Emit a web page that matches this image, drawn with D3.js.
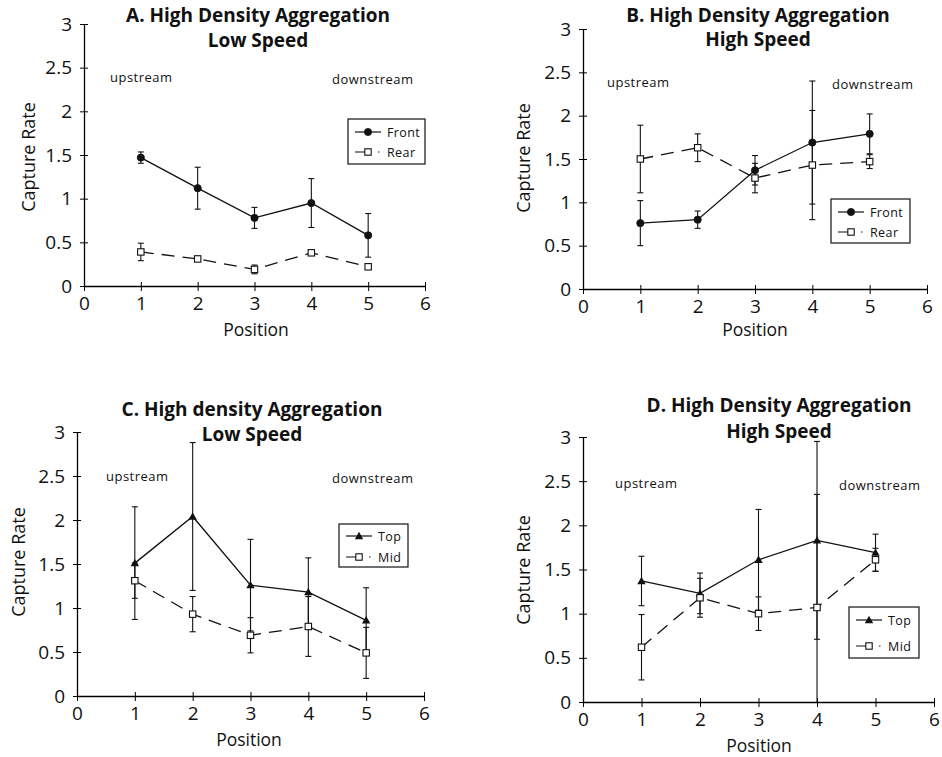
<!DOCTYPE html>
<html>
<head>
<meta charset="utf-8">
<script src="https://cdn.jsdelivr.net/npm/d3@7"></script>
<style>
  html, body { margin: 0; padding: 0; background: #fff; }
  svg { display: block; }
  text { font-family: "Open Sans", "Lato", sans-serif; fill: #111; }
</style>
</head>
<body>
<svg id="chart" width="942" height="757"></svg>
<script>
// ---------- DATA ----------
const positions = [1, 2, 3, 4, 5];
const xTickValues = [0, 1, 2, 3, 4, 5, 6];
const yTickValues = [0, 0.5, 1, 1.5, 2, 2.5, 3];
const yTickLabels = ["0", "0.5", "1", "1.5", "2", "2.5", "3"];

const panelTitles = [
  ["A. High Density Aggregation", "Low Speed"],
  ["B. High Density Aggregation", "High Speed"],
  ["C. High density Aggregation", "Low Speed"],
  ["D. High Density Aggregation", "High Speed"]
];
const seriesNamesAB = ["Front", "Rear"];
const seriesNamesCD = ["Top", "Mid"];

// Panel A
const aFront    = [1.47, 1.12, 0.78, 0.95, 0.58];
const aFrontErr = [0.065, 0.24, 0.12, 0.28, 0.25];
const aRear     = [0.39, 0.31, 0.19, 0.38, 0.22];
const aRearErr  = [0.10, 0.03, 0.05, 0.02, 0.03];
// Panel B
const bFront    = [0.76, 0.80, 1.37, 1.69, 1.79];
const bFrontErr = [0.26, 0.10, 0.17, 0.71, 0.23];
const bRear     = [1.50, 1.63, 1.28, 1.43, 1.47];
const bRearErr  = [0.39, 0.16, 0.17, 0.63, 0.08];
// Panel C
const cTop      = [1.51, 2.04, 1.26, 1.18, 0.86];
const cTopErr   = [0.64, 0.84, 0.52, 0.39, 0.37];
const cMid      = [1.31, 0.93, 0.69, 0.79, 0.49];
const cMidErr   = [0.20, 0.20, 0.20, 0.34, 0.29];
// Panel D
const dTop      = [1.37, 1.23, 1.61, 1.83, 1.69];
const dTopErr   = [0.28, 0.23, 0.57, 1.12, 0.21];
const dMid      = [0.62, 1.18, 1.00, 1.07, 1.61];
const dMidErr   = [0.37, 0.22, 0.19, 1.28, 0.13];

// ---------- LAYOUT ----------
const layouts = [
  { x0: 84,  x6: 425, y0: 286, y3: 24,  tx: 258, t1: 22, t2: 47,
    up: [110, 82], dn: [332, 84], leg: [348, 119, 77, 45], legRows: [132, 152],
    yl: [29, 157], pos: [256, 336], marker: "circle" },
  { x0: 583, x6: 927, y0: 289, y3: 29,  tx: 758, t1: 22, t2: 46,
    up: [607, 87], dn: [832, 89], leg: [831, 199, 79, 44], legRows: [212, 232],
    yl: [524, 158], pos: [755, 336], marker: "circle" },
  { x0: 77,  x6: 424, y0: 696, y3: 432, tx: 252, t1: 416, t2: 441,
    up: [106, 481], dn: [332, 483], leg: [339, 524, 69, 43], legRows: [536, 557],
    yl: [19, 562], pos: [249, 746], marker: "triangle" },
  { x0: 583, x6: 934, y0: 702, y3: 437, tx: 779, t1: 412, t2: 438,
    up: [615, 488], dn: [839, 490], leg: [849, 607, 70, 51], legRows: [620, 646],
    yl: [524, 570], pos: [759, 752], marker: "triangle" }
];

const panelSeries = [
  [{ name: seriesNamesAB[0], vals: aFront, errs: aFrontErr, dashed: false },
   { name: seriesNamesAB[1], vals: aRear,  errs: aRearErr,  dashed: true }],
  [{ name: seriesNamesAB[0], vals: bFront, errs: bFrontErr, dashed: false },
   { name: seriesNamesAB[1], vals: bRear,  errs: bRearErr,  dashed: true }],
  [{ name: seriesNamesCD[0], vals: cTop, errs: cTopErr, dashed: false },
   { name: seriesNamesCD[1], vals: cMid, errs: cMidErr, dashed: true }],
  [{ name: seriesNamesCD[0], vals: dTop, errs: dTopErr, dashed: false },
   { name: seriesNamesCD[1], vals: dMid, errs: dMidErr, dashed: true }]
];

const svg = d3.select("#chart");
const DASH = "13,8";

function drawMarker(g, type, cx, cy) {
  if (type === "circle") {
    g.append("circle").attr("cx", cx).attr("cy", cy).attr("r", 3.6)
      .attr("fill", "#111").attr("stroke", "#111").attr("stroke-width", 0.8);
  } else if (type === "triangle") {
    const s = 4.2;
    g.append("path")
      .attr("d", `M${cx},${cy - s}L${cx + s},${cy + s * 0.75}L${cx - s},${cy + s * 0.75}Z`)
      .attr("fill", "#111");
  } else {
    g.append("rect").attr("x", cx - 3.2).attr("y", cy - 3.2).attr("width", 6.4).attr("height", 6.4)
      .attr("fill", "#fff").attr("stroke", "#111").attr("stroke-width", 1.1);
  }
}

layouts.forEach((L, i) => {
  const g = svg.append("g");
  const x = d3.scaleLinear().domain([0, 6]).range([L.x0, L.x6]);
  const y = d3.scaleLinear().domain([0, 3]).range([L.y0, L.y3]);

  // axes (cross ticks)
  const yAxis = d3.axisLeft(y).tickValues(yTickValues)
    .tickFormat((d, k) => yTickLabels[k]).tickSizeInner(4).tickSizeOuter(0).tickPadding(8);
  const ya = g.append("g").attr("transform", `translate(${L.x0},0)`).call(yAxis);
  ya.selectAll(".tick line").attr("x2", -4).attr("x1", 4);
  ya.select(".domain").attr("stroke-width", 1.3);
  ya.selectAll(".tick text").attr("font-size", 19).attr("font-family", "Open Sans").attr("fill", "#111");

  const xAxis = d3.axisBottom(x).tickValues(xTickValues)
    .tickFormat(d3.format("d")).tickSizeInner(4).tickSizeOuter(0).tickPadding(7);
  const xa = g.append("g").attr("transform", `translate(0,${L.y0})`).call(xAxis);
  xa.selectAll(".tick line").attr("y1", -4).attr("y2", 5);
  xa.select(".domain").attr("stroke-width", 1.3);
  xa.selectAll(".tick text").attr("font-size", 19).attr("font-family", "Open Sans").attr("fill", "#111");

  // titles
  g.append("text").attr("x", L.tx).attr("y", L.t1).attr("text-anchor", "middle")
    .attr("font-size", 19).attr("font-weight", "bold").text(panelTitles[i][0]);
  g.append("text").attr("x", L.tx).attr("y", L.t2).attr("text-anchor", "middle")
    .attr("font-size", 19).attr("font-weight", "bold").text(panelTitles[i][1]);

  // annotations
  g.append("text").attr("x", L.up[0]).attr("y", L.up[1]).attr("font-size", 13)
    .attr("letter-spacing", 0.5).text("upstream");
  g.append("text").attr("x", L.dn[0]).attr("y", L.dn[1]).attr("font-size", 13)
    .attr("letter-spacing", 0.5).text("downstream");

  // axis labels
  g.append("text").attr("transform", `translate(${L.yl[0] + 6},${L.yl[1]}) rotate(-90)`)
    .attr("text-anchor", "middle").attr("font-size", 18).text("Capture Rate");
  g.append("text").attr("x", L.pos[0]).attr("y", L.pos[1]).attr("text-anchor", "middle")
    .attr("font-size", 17.5).text("Position");

  // series
  panelSeries[i].forEach((s, si) => {
    const pts = positions.map((p, k) => ({ p, v: s.vals[k], e: s.errs[k] }));
    // error bars
    pts.forEach(d => {
      const lo = Math.max(0, d.v - d.e), hi = d.v + d.e;
      const cx = x(d.p);
      g.append("line").attr("x1", cx).attr("x2", cx).attr("y1", y(lo)).attr("y2", y(hi))
        .attr("stroke", "#111").attr("stroke-width", 1.1);
      g.append("line").attr("x1", cx - 3).attr("x2", cx + 3).attr("y1", y(hi)).attr("y2", y(hi))
        .attr("stroke", "#111").attr("stroke-width", 1.1);
      if (d.v - d.e > 0) {
        g.append("line").attr("x1", cx - 3).attr("x2", cx + 3).attr("y1", y(lo)).attr("y2", y(lo))
          .attr("stroke", "#111").attr("stroke-width", 1.1);
      }
    });
    const line = d3.line().x(d => x(d.p)).y(d => y(d.v));
    g.append("path").datum(pts).attr("d", line).attr("fill", "none")
      .attr("stroke", "#111").attr("stroke-width", 1.3)
      .attr("stroke-dasharray", s.dashed ? DASH : null);
    const mtype = si === 0 ? L.marker : "square";
    pts.forEach(d => drawMarker(g, mtype, x(d.p), y(d.v)));
  });

  // legend
  const [lx, ly, lw, lh] = L.leg;
  g.append("rect").attr("x", lx).attr("y", ly).attr("width", lw).attr("height", lh)
    .attr("fill", "#fff").attr("stroke", "#111").attr("stroke-width", 1.2);
  panelSeries[i].forEach((s, si) => {
    const ry = L.legRows[si];
    const mtype = si === 0 ? L.marker : "square";
    if (si === 0) {
      g.append("line").attr("x1", lx + 7).attr("x2", lx + 33).attr("y1", ry).attr("y2", ry)
        .attr("stroke", "#111").attr("stroke-width", 1.2);
    } else {
      g.append("line").attr("x1", lx + 7).attr("x2", lx + 36).attr("y1", ry).attr("y2", ry)
        .attr("stroke", "#111").attr("stroke-width", 1.2).attr("stroke-dasharray", "13,10,1.5,20");
    }
    drawMarker(g, mtype, lx + 20, ry);
    g.append("text").attr("x", lx + 39).attr("y", ry + 4.5).attr("font-size", 12.5)
      .attr("letter-spacing", 0.4).text(s.name);
  });
});
</script>
</body>
</html>
